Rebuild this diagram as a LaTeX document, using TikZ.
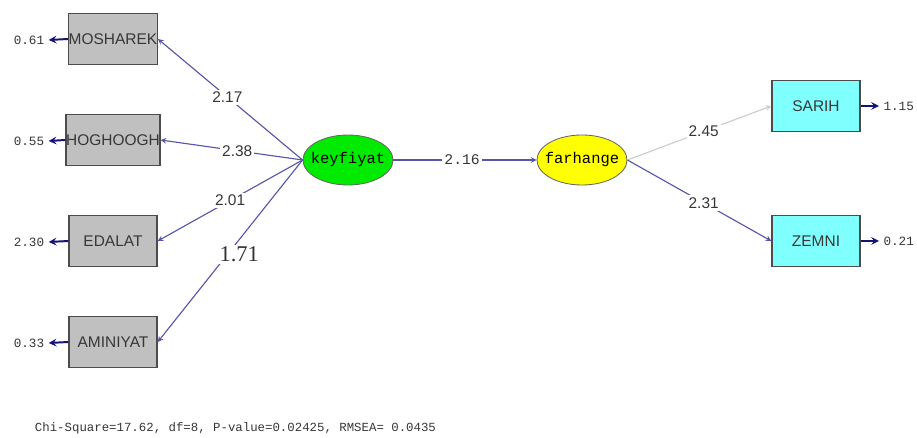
\documentclass[tikz,border=0pt]{standalone}
\usepackage{fontspec}
\setmainfont{Liberation Sans}
\newfontfamily\monofont{Liberation Mono}
\newfontfamily\seriffont{Liberation Serif}
\usepackage{tikz}
\usetikzlibrary{arrows, shapes.geometric}
\definecolor{pathblue}{RGB}{85,85,170}
\definecolor{errnavy}{RGB}{20,20,120}
\definecolor{boxgray}{RGB}{192,192,192}
\definecolor{boxcyan}{RGB}{128,255,255}
\definecolor{latgreen}{RGB}{0,235,0}
\definecolor{latyellow}{RGB}{255,255,0}
\definecolor{txtgray}{RGB}{55,55,55}
\tikzstyle{fleche} = [->,>=stealth,line width=0.8pt,color=pathblue]
\tikzstyle{flechegris} = [->,>=stealth,line width=0.8pt,color=black!20]
\tikzstyle{flecheerr} = [->,>=stealth,line width=1.4pt,color=errnavy]
\tikzstyle{obs} = [draw=black!70,line width=1pt,fill=boxgray,minimum width=2.2cm,minimum height=1.28cm,inner sep=0pt,font=\fontsize{11}{12}\selectfont,text=txtgray]
\tikzstyle{obscyan} = [obs,fill=boxcyan]
\tikzstyle{latent} = [ellipse,draw=black!60,line width=0.6pt,minimum width=2.25cm,minimum height=1.25cm,inner xsep=-0.14cm,inner ysep=0pt,font=\monofont\fontsize{11}{12}\selectfont]
\tikzstyle{coef} = [fill=white,inner sep=1.5pt,text=txtgray,font=\fontsize{11}{12}\selectfont]
\tikzstyle{err} = [inner sep=3pt,text=txtgray,font=\monofont\fontsize{9}{10}\selectfont]
\begin{document}
\begin{tikzpicture}[x=0.025cm,y=-0.025cm]
	\useasboundingbox (0,0) rectangle (917,438);

	\node[obs] (MOSH) at (113,39) {MOSHAREK};
	\node[obs] (HOGH) at (113,140) {HOGHOOGH};
	\node[obs] (EDAL) at (113,241) {EDALAT};
	\node[obs] (AMIN) at (113,342) {AMINIYAT};

	\node[obscyan] (SARIH) at (816,106) {SARIH};
	\node[obscyan] (ZEMNI) at (816,241) {ZEMNI};

	\node[latent,fill=latgreen] (KEY) at (348,160) {keyfiyat};
	\node[latent,fill=latyellow] (FAR) at (582,160) {farhange};

	\node[err] (eMOSH) at (29,40) {0.61};
	\node[err] (eHOGH) at (29,141) {0.55};
	\node[err] (eEDAL) at (29,242) {2.30};
	\node[err] (eAMIN) at (29,343) {0.33};
	\node[err,anchor=west] (eSARIH) at (879,106) {1.15};
	\node[err,anchor=west] (eZEMNI) at (879,241) {0.21};

	\draw[flecheerr] (MOSH.west) -- (eMOSH.east);
	\draw[flecheerr] (HOGH.west) -- (eHOGH.east);
	\draw[flecheerr] (EDAL.west) -- (eEDAL.east);
	\draw[flecheerr] (AMIN.west) -- (eAMIN.east);
	\draw[flecheerr] (SARIH.east) -- (eSARIH.west);
	\draw[flecheerr] (ZEMNI.east) -- (eZEMNI.west);

	\draw[fleche] (KEY.west) -- node[coef,pos=0.52] (c1) {2.17} (MOSH.east);
	\draw[fleche] (KEY.west) -- node[coef,pos=0.46] (c2) {2.38} (HOGH.east);
	\draw[fleche] (KEY.west) -- node[coef,pos=0.5] (c3) {2.01} (EDAL.east);
	\draw[fleche] (KEY.west) -- node[coef,pos=0.52,xshift=0.3cm,font=\seriffont\fontsize{16}{18}\selectfont,text=black!80] (c4) {1.71} (AMIN.east);

	\draw[fleche] (KEY.east) -- node[coef,pos=0.48,font=\monofont\fontsize{10.5}{12}\selectfont] (c5) {2.16} (FAR.west);

	\draw[flechegris] (FAR.east) -- node[coef,pos=0.53] (c6) {2.45} (SARIH.west);
	\draw[fleche] (FAR.east) -- node[coef,pos=0.53] (c7) {2.31} (ZEMNI.west);

	\node[anchor=west,text=txtgray,font=\monofont\fontsize{8.8}{10}\selectfont] (FIT) at (30,428) {Chi-Square=17.62, df=8, P-value=0.02425, RMSEA= 0.0435};

\end{tikzpicture}
\end{document}
